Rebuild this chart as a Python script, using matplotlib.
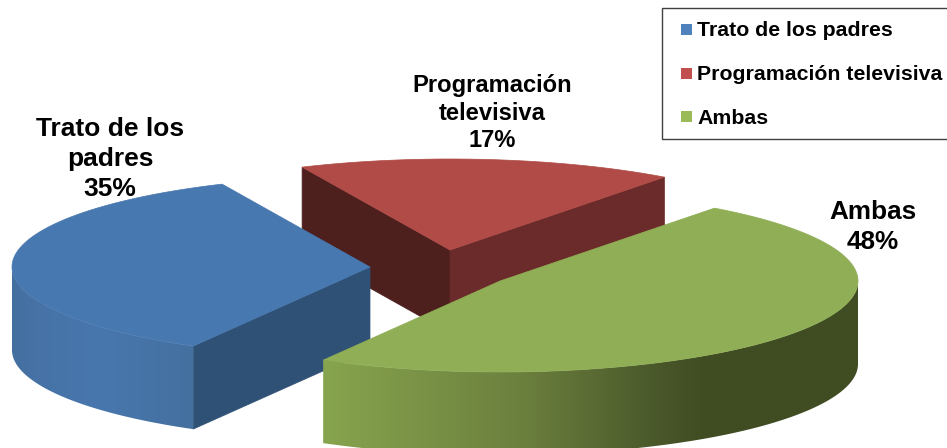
import numpy as np
import matplotlib
matplotlib.use("Agg")
import matplotlib.pyplot as plt
from matplotlib.patches import Polygon, Rectangle
from matplotlib.colors import LinearSegmentedColormap

plt.rcParams['font.family'] = ['Liberation Sans', 'DejaVu Sans']

# ---- data ----
categories = ["Trato de los padres", "Programación televisiva", "Ambas"]
values = [35, 17, 48]
label_lines = ["Trato de los\npadres", "Programación\ntelevisiva", "Ambas"]
legend_colors = ["#4f81bd", "#c0504d", "#9bbb59"]
top_colors = ["#4878b0", "#b04b47", "#8fae55"]

# ---- layout / style ----
W, H = 947, 448
RX, RY, DEPTH = 358, 91, 83
START = -119.6                       # clockwise from here, in ellipse parameter degrees
apex = {0: (370, 267), 1: (450, 250), 2: (500, 281)}
label_pos = {0: (110, 159, 19.0, 30), 1: (492, 113, 17.1, 27.5), 2: (873, 227, 18.8, 30)}

fig = plt.figure(figsize=(W / 100, H / 100), dpi=100)
ax = fig.add_axes([0, 0, 1, 1])
ax.set_xlim(0, W)
ax.set_ylim(H, 0)
ax.axis("off")

# slice angles derived from the values
sweeps = np.array(values) / sum(values) * 360
ends = START - np.cumsum(sweeps)
starts = ends + sweeps


def rim(c, t):
    t = np.radians(t)
    return np.column_stack([c[0] + RX * np.cos(t), c[1] - RY * np.sin(t)])


def down(p):
    return np.asarray(p) + [0, DEPTH]


def quad(p, q, color, z):
    p, q = np.asarray(p, float), np.asarray(q, float)
    ax.add_patch(Polygon([p, q, q + [0, DEPTH], p + [0, DEPTH]],
                         closed=True, fc=color, ec=color, lw=0.5, zorder=z))


def outer_side(c, t0, t1, colors, z):
    ts = np.linspace(t0, t1, 200)
    top = rim(c, ts)
    poly = np.vstack([top, down(top)[::-1]])
    patch = Polygon(poly, closed=True, fc="none", ec="none", transform=ax.transData)
    ax.add_patch(patch)
    x0, x1 = top[:, 0].min(), top[:, 0].max()
    cmap = LinearSegmentedColormap.from_list("g", colors)
    im = ax.imshow(np.linspace(0, 1, 256)[None, :], cmap=cmap, aspect="auto",
                   extent=(x0, x1, poly[:, 1].max(), poly[:, 1].min()), zorder=z,
                   interpolation="bilinear")
    im.set_clip_path(patch)


def top_face(i, z):
    c = apex[i]
    ts = np.linspace(starts[i], ends[i], 200)
    arc = rim(c, ts)
    ax.add_patch(Polygon(np.vstack([[c], arc]), closed=True, fc=top_colors[i],
                         ec=top_colors[i], lw=0.5, zorder=z))


# red slice (back)
i = 1
a = rim(apex[i], [starts[i], ends[i]])
quad(a[0], apex[i], "#4d1f1d", 1)
quad(apex[i], a[1], "#6b2b2a", 1)
top_face(i, 2)

# blue slice (left)
i = 0
a = rim(apex[i], [starts[i], ends[i]])
quad(apex[i], a[0], "#305176", 3)
outer_side(apex[i], -180, starts[i],
           [(0, "#436f9f"), (0.12, "#4672a6"), (0.5, "#4877ae"), (1, "#44709f")], 3)
top_face(i, 4)

# green slice (front)
i = 2
outer_side(apex[i], ends[i], -360,
           [(0, "#87a44e"), (0.37, "#6c803e"), (0.65, "#465428"), (0.72, "#404c22"), (1, "#404c22")], 5)
top_face(i, 6)

ax.set_xlim(0, W)
ax.set_ylim(H, 0)

# data labels
for i, (x, y, fs, step) in label_pos.items():
    lines = label_lines[i].split("\n") + [f"{values[i]}%"]
    y0 = y - step * (len(lines) - 1) / 2
    for k, s in enumerate(lines):
        ax.text(x, y0 + k * step, s, ha="center", va="center", fontsize=fs,
                fontweight="bold", color="black", zorder=10)

# legend
ax.add_patch(Rectangle((662, 8), 300, 131, fc="white", ec="#404040", lw=1.0, zorder=8))
for i, y in enumerate([30.5, 74.5, 118]):
    ax.add_patch(Rectangle((681, y - 6.5), 11, 11, fc=legend_colors[i], ec="none", zorder=9))
    ax.text(697, y, categories[i], ha="left", va="center", fontsize=15.3,
            fontweight="bold", color="black", zorder=10)

fig.savefig("out.png", dpi=100)
